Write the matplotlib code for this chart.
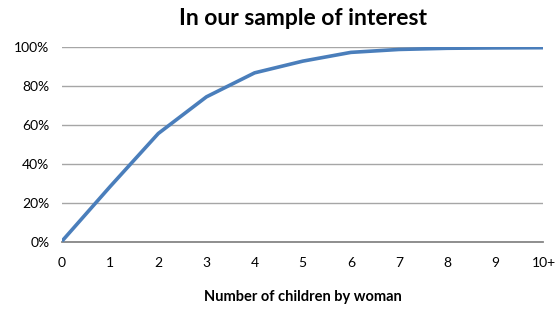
import matplotlib.pyplot as plt
from matplotlib.ticker import PercentFormatter

categories = ["0", "1", "2", "3", "4", "5", "6", "7", "8", "9", "10+"]
cumulative = [0.5, 28.5, 55.7, 74.5, 86.8, 92.8, 97.3, 98.8, 99.4, 99.6, 99.7]

plt.rcParams["font.family"] = ["Lato", "DejaVu Sans"]

fig = plt.figure(figsize=(5.56, 3.12), dpi=100)
ax = fig.add_axes([0.1115, 0.224, 0.866, 0.625])

x = list(range(len(categories)))
ax.plot(x, cumulative, color="#4a7ebb", linewidth=2.6, solid_capstyle="butt", zorder=3)

ax.set_xlim(0, len(categories) - 1)
ax.set_ylim(0, 100)
ax.set_xticks(x)
ax.set_xticklabels(categories)
ax.set_yticks(range(0, 101, 20))
ax.yaxis.set_major_formatter(PercentFormatter(decimals=0))

ax.grid(axis="y", color="#a6a6a6", linewidth=1)
ax.set_axisbelow(True)
for side in ["top", "right", "left"]:
    ax.spines[side].set_visible(False)
ax.spines["bottom"].set_color("#868686")
ax.spines["bottom"].set_linewidth(1.3)
ax.tick_params(length=0, labelsize=10, colors="black", pad=9)
ax.tick_params(axis="x", pad=11)

ax.set_title("In our sample of interest", fontsize=16.5, fontweight="bold", pad=16)
ax.set_xlabel("Number of children by woman", fontsize=10.5, fontweight="bold", labelpad=15)

fig.savefig("out.png", dpi=100)
